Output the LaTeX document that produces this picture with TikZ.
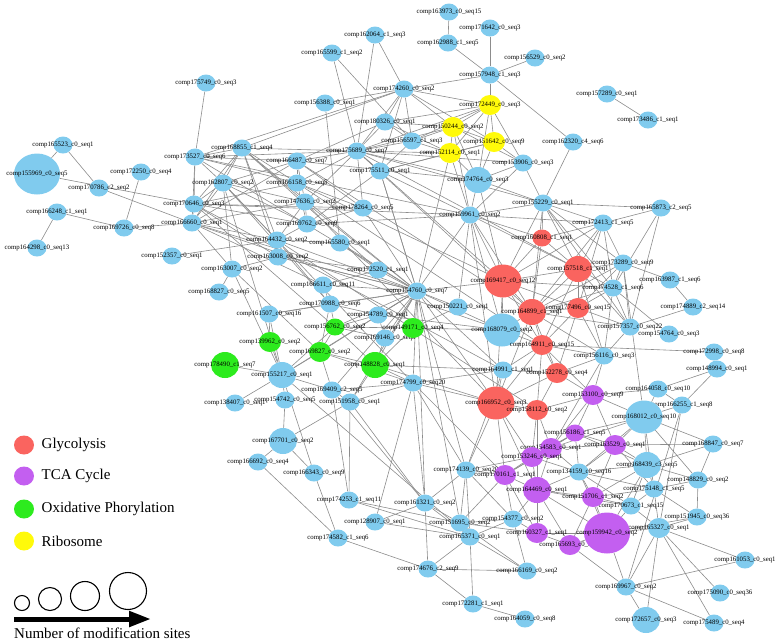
\documentclass[tikz,border=0pt]{standalone}
\usepackage{fontspec}
\setmainfont{Liberation Serif}
\usetikzlibrary{arrows.meta,positioning,shapes.geometric,backgrounds}
\definecolor{nblue}{RGB}{128,203,238}
\definecolor{nred}{RGB}{250,100,95}
\definecolor{npurple}{RGB}{195,95,240}
\definecolor{ngreen}{RGB}{45,235,30}
\definecolor{nyellow}{RGB}{255,250,10}
\definecolor{edgegray}{RGB}{140,140,140}
\newcommand{\nlab}[1]{\makebox[0pt]{#1}}

\begin{document}
\begin{tikzpicture}[x=1pt, y=-1pt,
  font=\fontsize{6.8}{7}\selectfont,
  nd/.style={ellipse, inner sep=0pt, minimum width=19pt, minimum height=17pt},
  bn/.style={nd, fill=nblue},
  rn/.style={nd, fill=nred},
  pn/.style={nd, fill=npurple},
  gn/.style={nd, fill=ngreen},
  yn/.style={nd, fill=nyellow},
  md/.style={minimum width=22pt, minimum height=20pt},
  lg/.style={minimum width=28pt, minimum height=26pt},
  xl/.style={minimum width=37pt, minimum height=33pt},
  xxl/.style={minimum width=46pt, minimum height=41pt},
  ln/.style={draw=edgegray, line width=0.6pt},
  legdot/.style={ellipse, inner sep=0pt, minimum width=20pt, minimum height=19pt},
  legtxt/.style={font=\fontsize{15}{17}\selectfont},
  ring/.style={circle, draw, line width=1.1pt, inner sep=0pt}
]
\useasboundingbox (0,0) rectangle (778,641);

\node[bn] (n175749) at (206,83) {\nlab{comp175749\_c0\_seq3}};
\node[bn] (n165523) at (63,145) {\nlab{comp165523\_c0\_seq1}};
\node[bn, xxl] (n155969) at (37,174) {\nlab{comp155969\_c0\_seq5}};
\node[bn] (n170786) at (99,188) {\nlab{comp170786\_c2\_seq2}};
\node[bn] (n172250) at (141,172) {\nlab{comp172250\_c0\_seq4}};
\node[bn] (n173527) at (195,157) {\nlab{comp173527\_c0\_seq6}};
\node[bn] (n170646) at (194,204) {\nlab{comp170646\_c0\_seq3}};
\node[bn] (n166248) at (57,212) {\nlab{comp166248\_c1\_seq1}};
\node[bn] (n166660) at (192,223) {\nlab{comp166660\_c0\_seq1}};
\node[bn] (n169726) at (124,228) {\nlab{comp169726\_c0\_seq8}};
\node[bn] (n164298) at (37,248) {\nlab{comp164298\_c0\_seq13}};
\node[bn] (n152357) at (172,256) {\nlab{comp152357\_c0\_seq1}};
\node[bn] (n162064) at (375,35) {\nlab{comp162064\_c1\_seq3}};
\node[bn] (n165599) at (332,53) {\nlab{comp165599\_c1\_seq2}};
\node[bn] (n156388) at (325,103) {\nlab{comp156388\_c0\_seq1}};
\node[bn] (n168855) at (242,148) {\nlab{comp168855\_c1\_seq4}};
\node[bn] (n166487) at (297,161) {\nlab{comp166487\_c0\_seq7}};
\node[bn] (n162807) at (223,183) {\nlab{comp162807\_c0\_seq2}};
\node[bn] (n166158) at (297,183) {\nlab{comp166158\_c0\_seq5}};
\node[bn] (n147636) at (305,202) {\nlab{comp147636\_c0\_seq2}};
\node[bn] (n175689) at (357,151) {\nlab{comp175689\_c0\_seq7}};
\node[bn] (n175511) at (380,171) {\nlab{comp175511\_c0\_seq1}};
\node[bn] (n178264) at (363,208) {\nlab{comp178264\_c0\_seq5}};
\node[bn] (n174260) at (404,89) {\nlab{comp174260\_c0\_seq2}};
\node[bn] (n180326) at (385,122) {\nlab{comp180326\_c0\_seq1}};
\node[bn] (n156597) at (412,141) {\nlab{comp156597\_c1\_seq3}};
\node[bn] (n163973) at (449,12) {\nlab{comp163973\_c0\_seq15}};
\node[bn] (n171642) at (490,28) {\nlab{comp171642\_c0\_seq3}};
\node[bn] (n162988) at (448,43) {\nlab{comp162988\_c1\_seq5}};
\node[bn] (n156529) at (535,58) {\nlab{comp156529\_c0\_seq2}};
\node[bn] (n157948) at (490,75) {\nlab{comp157948\_c1\_seq3}};
\node[bn] (n153906) at (523,163) {\nlab{comp153906\_c0\_seq3}};
\node[bn, lg] (n174764) at (478,180) {\nlab{comp174764\_c0\_seq3}};
\node[bn] (n162320) at (573,142) {\nlab{comp162320\_c4\_seq6}};
\node[bn] (n155229) at (543,203) {\nlab{comp155229\_c0\_seq1}};
\node[bn] (n159961) at (470,215) {\nlab{comp159961\_c0\_seq2}};
\node[bn] (n157289) at (607,94) {\nlab{comp157289\_c0\_seq1}};
\node[bn] (n173486) at (648,120) {\nlab{comp173486\_c1\_seq1}};
\node[bn] (n165873) at (661,208) {\nlab{comp165873\_c2\_seq5}};
\node[bn] (n169762) at (307,224) {\nlab{comp169762\_c0\_seq9}};
\node[bn] (n164432) at (277,240) {\nlab{comp164432\_c0\_seq2}};
\node[bn] (n165580) at (340,243) {\nlab{comp165580\_c0\_seq1}};
\node[bn] (n163008) at (278,257) {\nlab{comp163008\_c0\_seq2}};
\node[bn] (n163007) at (232,269) {\nlab{comp163007\_c0\_seq2}};
\node[bn] (n172520) at (378,270) {\nlab{comp172520\_c1\_seq1}};
\node[bn] (n166611) at (323,285) {\nlab{comp166611\_c0\_seq11}};
\node[bn] (n168827) at (219,292) {\nlab{comp168827\_c0\_seq5}};
\node[bn] (n170988) at (330,304) {\nlab{comp170988\_c0\_seq6}};
\node[bn] (n161507) at (269,314) {\nlab{comp161507\_c0\_seq16}};
\node[bn] (n154789) at (378,315) {\nlab{comp154789\_c0\_seq1}};
\node[bn] (n169146) at (385,338) {\nlab{comp169146\_c0\_seq8}};
\node[bn] (n154760) at (417,291) {\nlab{comp154760\_c0\_seq7}};
\node[bn] (n150221) at (458,307) {\nlab{comp150221\_c0\_seq1}};
\node[bn, xl] (n168079) at (502,330) {\nlab{comp168079\_c0\_seq2}};
\node[bn] (n164991) at (503,370) {\nlab{comp164991\_c1\_seq1}};
\node[bn] (n174799) at (413,383) {\nlab{comp174799\_c0\_seq20}};
\node[bn, lg] (n155217) at (282,375) {\nlab{comp155217\_c0\_seq1}};
\node[bn] (n169409) at (332,390) {\nlab{comp169409\_c2\_seq5}};
\node[bn] (n151958) at (350,402) {\nlab{comp151958\_c0\_seq1}};
\node[bn] (n154742) at (285,400) {\nlab{comp154742\_c0\_seq5}};
\node[bn] (n138407) at (235,403) {\nlab{comp138407\_c0\_seq1}};
\node[bn] (n172413) at (603,223) {\nlab{comp172413\_c1\_seq5}};
\node[bn] (n173289) at (623,263) {\nlab{comp173289\_c0\_seq9}};
\node[bn] (n163987) at (670,280) {\nlab{comp163987\_c1\_seq6}};
\node[bn] (n174528) at (613,288) {\nlab{comp174528\_c1\_seq6}};
\node[bn] (n174889) at (693,307) {\nlab{comp174889\_c2\_seq14}};
\node[bn] (n157357) at (630,327) {\nlab{comp157357\_c0\_seq22}};
\node[bn] (n154764) at (669,334) {\nlab{comp154764\_c0\_seq3}};
\node[bn] (n172998) at (714,352) {\nlab{comp172998\_c0\_seq8}};
\node[bn] (n156116) at (604,356) {\nlab{comp156116\_c0\_seq3}};
\node[bn] (n148994) at (717,369) {\nlab{comp148994\_c0\_seq1}};
\node[bn] (n164058) at (658,389) {\nlab{comp164058\_c0\_seq10}};
\node[bn] (n166255) at (682,405) {\nlab{comp166255\_c1\_seq8}};
\node[bn, xl] (n168012) at (644,417) {\nlab{comp168012\_c0\_seq10}};
\node[bn] (n134159) at (579,472) {\nlab{comp134159\_c0\_seq16}};
\node[bn] (n174139) at (466,470) {\nlab{comp174139\_c0\_seq20}};
\node[bn] (n161321) at (425,503) {\nlab{comp161321\_c0\_seq2}};
\node[bn] (n151695) at (460,523) {\nlab{comp151695\_c0\_seq2}};
\node[bn] (n154377) at (513,519) {\nlab{comp154377\_c0\_seq2}};
\node[bn] (n165371) at (470,537) {\nlab{comp165371\_c0\_seq1}};
\node[bn] (n174676) at (428,569) {\nlab{comp174676\_c2\_seq9}};
\node[bn] (n166169) at (527,571) {\nlab{comp166169\_c0\_seq2}};
\node[bn] (n172281) at (473,604) {\nlab{comp172281\_c1\_seq1}};
\node[bn] (n164059) at (525,619) {\nlab{comp164059\_c0\_seq8}};
\node[bn] (n128907) at (375,522) {\nlab{comp128907\_c0\_seq1}};
\node[bn, lg] (n167701) at (283,441) {\nlab{comp167701\_c0\_seq2}};
\node[bn] (n166692) at (258,462) {\nlab{comp166692\_c0\_seq4}};
\node[bn] (n166343) at (314,473) {\nlab{comp166343\_c0\_seq9}};
\node[bn] (n174253) at (349,500) {\nlab{comp174253\_c1\_seq11}};
\node[bn] (n174582) at (338,538) {\nlab{comp174582\_c1\_seq6}};
\node[bn] (n168847) at (713,444) {\nlab{comp168847\_c0\_seq7}};
\node[bn, lg] (n168439) at (647,465) {\nlab{comp168439\_c3\_seq5}};
\node[bn] (n148829) at (698,480) {\nlab{comp148829\_c0\_seq2}};
\node[bn] (n175148) at (654,489) {\nlab{comp175148\_c1\_seq5}};
\node[bn] (n170673) at (631,506) {\nlab{comp170673\_c1\_seq15}};
\node[bn] (n151945) at (697,517) {\nlab{comp151945\_c0\_seq36}};
\node[bn, md] (n165327) at (659,528) {\nlab{comp165327\_c0\_seq1}};
\node[bn] (n161053) at (745,560) {\nlab{comp161053\_c0\_seq1}};
\node[bn] (n169967) at (626,587) {\nlab{comp169967\_c0\_seq2}};
\node[bn] (n175090) at (720,593) {\nlab{comp175090\_c0\_seq36}};
\node[bn, lg] (n172657) at (646,620) {\nlab{comp172657\_c0\_seq3}};
\node[bn] (n175489) at (714,623) {\nlab{comp175489\_c0\_seq4}};

\node[rn] (n160808) at (542,238) {\nlab{comp160808\_c1\_seq1}};
\node[rn, xl] (n169417) at (503,281) {\nlab{comp169417\_c0\_seq12}};
\node[rn, lg] (n164899) at (532,312) {\nlab{comp164899\_c1\_seq1}};
\node[rn, lg] (n157518) at (578,269) {\nlab{comp157518\_c1\_seq1}};
\node[rn, md] (n177496) at (578,308) {\nlab{comp177496\_c0\_seq15}};
\node[rn, md] (n164911) at (542,345) {\nlab{comp164911\_c0\_seq15}};
\node[rn, md] (n152278) at (557,373) {\nlab{comp152278\_c0\_seq4}};
\node[rn, xl] (n166952) at (496,403) {\nlab{comp166952\_c0\_seq3}};
\node[rn, md] (n158112) at (537,410) {\nlab{comp158112\_c0\_seq2}};

\node[pn, md] (n153100) at (593,395) {\nlab{comp153100\_c0\_seq9}};
\node[pn] (n156186) at (575,433) {\nlab{comp156186\_c1\_seq5}};
\node[pn, md] (n154583) at (551,448) {\nlab{comp154583\_c0\_seq1}};
\node[pn, md] (n153246) at (532,457) {\nlab{comp153246\_c0\_seq1}};
\node[pn, md] (n163529) at (615,445) {\nlab{comp163529\_c0\_seq1}};
\node[pn, md] (n170161) at (505,475) {\nlab{comp170161\_c1\_seq1}};
\node[pn, lg] (n164469) at (537,490) {\nlab{comp164469\_c0\_seq1}};
\node[pn, md] (n160327) at (537,533) {\nlab{comp160327\_c1\_seq1}};
\node[pn, md] (n165693) at (570,545) {\nlab{comp165693\_c0\_seq2}};
\node[pn, md] (n151706) at (593,497) {\nlab{comp151706\_c1\_seq2}};
\node[pn, xxl] (n159942) at (607,533) {\nlab{comp159942\_c0\_seq2}};

\node[gn] (n156762) at (335,327) {\nlab{comp156762\_c0\_seq2}};
\node[gn, md] (n149171) at (413,328) {\nlab{comp149171\_c0\_seq4}};
\node[gn, md] (n139962) at (270,342) {\nlab{comp139962\_c0\_seq2}};
\node[gn, md] (n169827) at (320,352) {\nlab{comp169827\_c0\_seq2}};
\node[gn, lg] (n178490) at (225,365) {\nlab{comp178490\_c1\_seq7}};
\node[gn, lg] (n148828) at (375,365) {\nlab{comp148828\_c0\_seq1}};

\node[yn, md] (n172449) at (490,105) {\nlab{comp172449\_c0\_seq3}};
\node[yn, md] (n150244) at (453,127) {\nlab{comp150244\_c0\_seq2}};
\node[yn, md] (n151642) at (494,142) {\nlab{comp151642\_c0\_seq9}};
\node[yn, md] (n152114) at (450,153) {\nlab{comp152114\_c0\_seq1}};

\begin{scope}[on background layer]
\foreach \a/\b in {n165523/n155969, n165523/n170786, n155969/n170646, n170786/n166660,
  n172250/n169726, n166248/n169726, n166248/n164298, n169726/n166660, n152357/n164432,
  n175749/n173527, n173527/n170646, n173527/n166660, n168827/n163007,
  n162064/n175689, n162064/n174260, n165599/n175689, n165599/n156597, n156388/n165580,
  n156388/n174260, n163973/n162988, n162988/n157948, n171642/n157948, n156529/n157948,
  n157948/n174260, n157948/n172449, n157948/n162320, n162320/n155229, n157289/n173486}
  \draw[ln] (\a) -- (\b);
\foreach \a/\b in {n173527/n168855, n173527/n162807, n173527/n166487, n173527/n166158,
  n173527/n175689, n168855/n162807, n168855/n170646, n168855/n166660, n168855/n166158,
  n168855/n147636, n168855/n164432, n168855/n163008, n168855/n175689, n162807/n170646,
  n162807/n166660, n162807/n166487, n162807/n147636, n162807/n169762, n162807/n164432,
  n162807/n163007, n170646/n166660, n170646/n166158, n170646/n169762, n170646/n163008,
  n170646/n178264, n166660/n166487, n166660/n147636, n166660/n164432, n166660/n163007,
  n166487/n175689, n166487/n166158, n166487/n147636, n166487/n178264, n166158/n175689,
  n166158/n169762, n166158/n178264, n147636/n175689, n147636/n164432, n147636/n169762,
  n169762/n164432, n169762/n178264, n169762/n175511, n164432/n163008, n164432/n165580,
  n163008/n163007, n163008/n172520, n173527/n154760, n168855/n154760, n162807/n170988,
  n170646/n159961, n166660/n154760, n166487/n174764, n166158/n169417, n147636/n154760,
  n169762/n159961, n164432/n170988, n163008/n154760, n163007/n155217, n163007/n169827,
  n162807/n155217, n168855/n172520, n166660/n166611, n170646/n156762, n173527/n159961,
  n166487/n164899, n162807/n174799, n170646/n164991, n166660/n168079, n147636/n166952,
  n164432/n158112, n166158/n164911, n174260/n173527, n180326/n166487, n174260/n168855}
  \draw[ln] (\a) -- (\b);
\foreach \a/\b in {n172449/n150244, n172449/n151642, n172449/n152114, n172449/n174260,
  n172449/n180326, n172449/n156597, n172449/n175689, n172449/n174764, n172449/n153906,
  n150244/n151642, n150244/n152114, n150244/n174260, n150244/n180326, n150244/n156597,
  n150244/n175689, n150244/n174764, n150244/n153906, n151642/n152114, n151642/n174764,
  n151642/n153906, n151642/n174260, n151642/n175511, n152114/n174764, n152114/n156597,
  n152114/n175511, n152114/n180326, n152114/n159961, n152114/n175689, n174260/n180326,
  n174260/n156597, n174260/n175689, n174260/n175511, n180326/n156597, n180326/n175689,
  n156597/n175689, n156597/n175511, n175689/n175511, n175689/n178264, n175689/n174764,
  n175689/n153906, n174764/n153906, n174764/n159961, n174764/n155229, n153906/n155229,
  n153906/n159961, n175511/n159961, n175511/n154760, n152114/n154760, n150244/n159961,
  n175689/n169417, n175689/n164899, n175689/n155229, n175689/n157518}
  \draw[ln] (\a) -- (\b);
\foreach \b in {n172520, n166611, n170988, n154789, n156762, n169146, n149171, n148828,
  n169827, n174799, n150221, n169417, n159961, n178264, n165580, n164432, n175511,
  n168079, n164991, n166952, n161507, n155217, n169409, n151958, n174139, n161321,
  n151695, n163008}
  \draw[ln] (n154760) -- (\b);
\foreach \a/\b in {n159961/n155229, n159961/n157518, n159961/n164899, n159961/n168079,
  n159961/n150221, n159961/n172413, n159961/n166952, n169417/n159961, n169417/n160808,
  n169417/n164899, n169417/n157518, n169417/n177496, n169417/n168079, n169417/n164911,
  n169417/n155229, n169417/n172413, n169417/n174528, n169417/n166952, n169417/n174764,
  n164899/n157518, n164899/n177496, n164899/n160808, n164899/n164911, n164899/n168079,
  n164899/n152278, n164899/n155229, n164899/n172413, n164899/n173289, n164899/n174528,
  n164899/n157357, n164899/n156116, n164899/n166952, n157518/n172413, n157518/n173289,
  n157518/n174528, n157518/n177496, n157518/n155229, n157518/n160808, n157518/n157357,
  n157518/n156116, n157518/n164911, n177496/n174528, n177496/n157357, n177496/n156116,
  n177496/n172413, n177496/n173289, n177496/n164911, n177496/n152278, n160808/n155229,
  n160808/n172413, n160808/n159961, n164911/n152278, n164911/n156116, n164911/n168079,
  n164911/n164991, n164911/n158112, n164911/n153100, n164911/n166952, n164911/n172998,
  n152278/n158112, n152278/n156116, n152278/n153100, n152278/n166952, n152278/n164991,
  n166952/n158112, n166952/n164991, n166952/n174799, n166952/n170161, n166952/n164469,
  n166952/n153246, n158112/n153100, n158112/n154583, n158112/n153246, n158112/n164469,
  n155229/n172413, n155229/n173289, n155229/n174528, n155229/n157357, n155229/n165873,
  n172413/n173289, n172413/n174528, n172413/n165873, n165873/n174528, n165873/n157357,
  n173289/n174528, n173289/n157357, n173289/n163987, n173289/n168012, n174528/n157357,
  n174528/n156116, n174528/n154764, n157357/n156116, n157357/n174889, n163987/n174889,
  n156116/n153100, n156116/n154583}
  \draw[ln] (\a) -- (\b);
\foreach \a/\b in {n153100/n168012, n153100/n164058, n153100/n156186, n153100/n154583,
  n153100/n163529, n168012/n166255, n168012/n164058, n168012/n156186, n168012/n163529,
  n168012/n168439, n168012/n168847, n168012/n148829, n168012/n175148, n168012/n154583,
  n168012/n134159, n156186/n154583, n156186/n153246, n156186/n163529, n156186/n134159,
  n156186/n168439, n156186/n170161, n154583/n153246, n154583/n163529, n154583/n170161,
  n154583/n164469, n154583/n134159, n153246/n170161, n153246/n164469, n153246/n134159,
  n153246/n174139, n163529/n134159, n163529/n168439, n163529/n168847, n163529/n175148,
  n163529/n151706, n134159/n168439, n134159/n164469, n134159/n151706, n134159/n170673,
  n134159/n159942, n134159/n175148, n170161/n164469, n170161/n174139, n170161/n154377,
  n170161/n160327, n170161/n151695, n164469/n160327, n164469/n154377, n164469/n165693,
  n164469/n151706, n164469/n159942, n164469/n170673, n168439/n168847, n168439/n148829,
  n168439/n175148, n168439/n151706, n168439/n170673, n168439/n159942, n148829/n175148,
  n148829/n151945, n148829/n168847, n175148/n170673, n175148/n165327, n175148/n151706,
  n175148/n151945, n151706/n170673, n151706/n159942, n151706/n165693, n170673/n159942,
  n170673/n165327, n160327/n165693, n160327/n154377, n160327/n159942, n160327/n151695,
  n165693/n159942, n165693/n169967, n159942/n165327, n159942/n169967, n159942/n151945,
  n151945/n165327, n165327/n161053, n165327/n169967, n165327/n172657, n165327/n175090,
  n165327/n175489, n169967/n161053, n169967/n172657, n169967/n175489, n166255/n148994,
  n166255/n164058, n166255/n165327, n166255/n169967, n164058/n148994}
  \draw[ln] (\a) -- (\b);
\foreach \a/\b in {n174139/n161321, n174139/n151695, n174139/n165371, n174139/n174799,
  n174139/n164991, n174139/n166952, n174139/n154377, n161321/n174799, n161321/n151695,
  n161321/n165371, n161321/n128907, n161321/n174676, n151695/n165371, n151695/n154377,
  n151695/n166169, n151695/n174253, n165371/n154377, n165371/n166169, n165371/n174676,
  n165371/n172281, n165371/n174253, n154377/n166169, n174676/n166169, n174676/n172281,
  n174676/n174582, n172281/n164059, n128907/n174799, n128907/n165371, n174253/n151958,
  n174253/n169409, n166343/n167701, n166343/n174582, n166343/n155217, n167701/n166692,
  n167701/n154742, n167701/n151958, n166692/n174582, n155217/n138407, n155217/n154742,
  n155217/n178490, n155217/n139962, n155217/n169827, n155217/n169409, n155217/n156762,
  n155217/n161507, n155217/n165371, n169409/n151958, n169409/n169827, n169409/n174799,
  n169409/n161321, n151958/n148828, n151958/n174799, n151958/n161321, n139962/n161507,
  n169827/n156762, n169827/n148828, n169827/n170988, n169827/n174799, n156762/n170988,
  n156762/n154789, n156762/n149171, n156762/n169146, n156762/n148828, n148828/n169146,
  n148828/n149171, n148828/n174799, n148828/n166952, n148828/n164991, n174799/n164991,
  n174799/n170161, n149171/n168079, n149171/n150221, n170988/n166611, n170988/n161507,
  n170988/n154789, n154789/n169146, n154789/n168079, n172520/n166611, n172520/n165580}
  \draw[ln] (\a) -- (\b);
\end{scope}

\node[legdot, fill=nred] (kgly) at (24,445) {};
\node[legtxt, right=4pt of kgly] {Glycolysis};
\node[legdot, fill=npurple] (ktca) at (24,476) {};
\node[legtxt, right=4pt of ktca] {TCA Cycle};
\node[legdot, fill=ngreen] (koxp) at (24,509) {};
\node[legtxt, right=4pt of koxp] {Oxidative Phorylation};
\node[legdot, fill=nyellow] (krib) at (24,541) {};
\node[legtxt, right=4pt of krib] {Ribosome};

\node[ring, minimum size=15pt] (sz1) at (22,603) {};
\node[ring, minimum size=23pt] (sz2) at (50,599) {};
\node[ring, minimum size=29pt] (sz3) at (85,596) {};
\node[ring, minimum size=37pt] (sz4) at (128,591) {};
\coordinate (ar0) at (14,619);
\coordinate (ar1) at (151,619);
\draw[line width=5pt, -{Triangle[length=22pt, width=15pt]}] (ar0) -- (ar1);
\node[legtxt, anchor=west] (sztxt) at (10.7,633) {Number of modification sites};
\end{tikzpicture}
\end{document}
